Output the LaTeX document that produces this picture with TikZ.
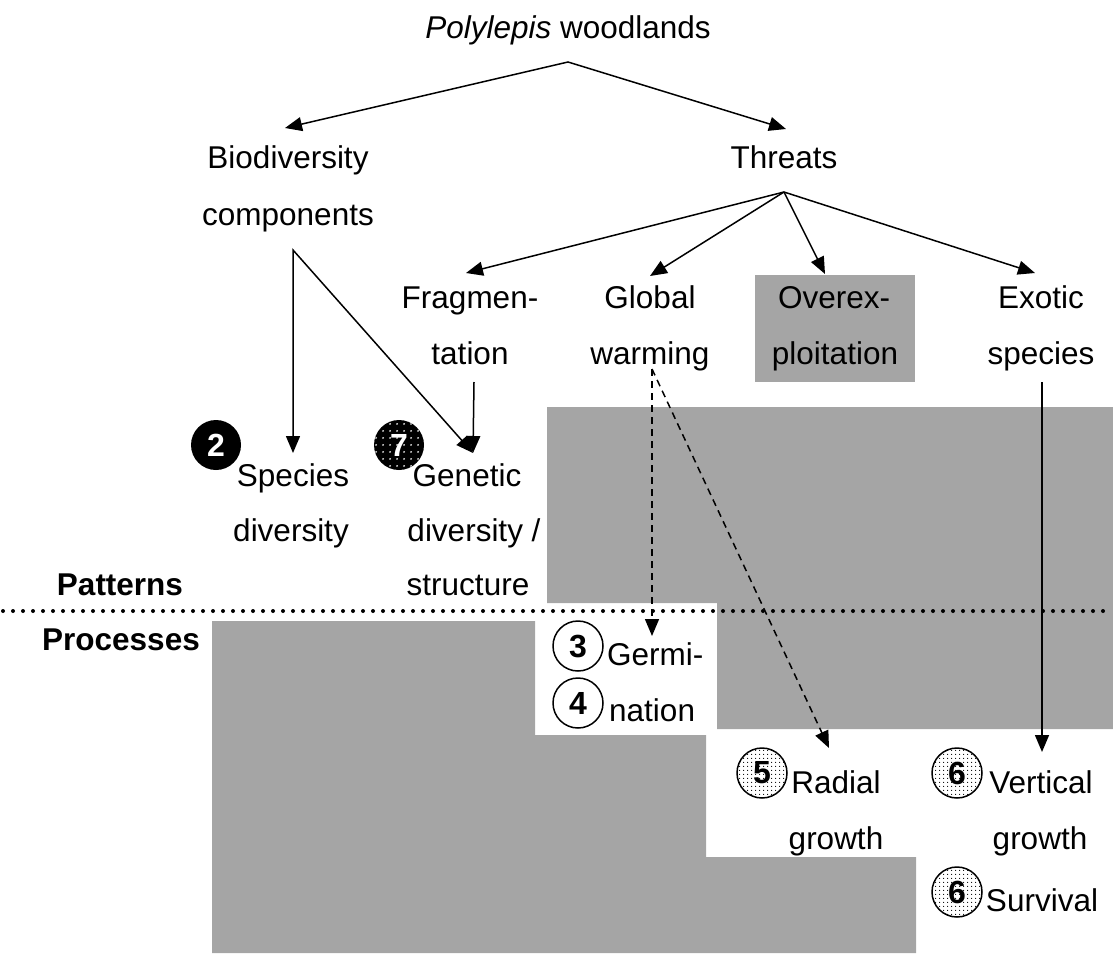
\documentclass[tikz,border=0pt]{standalone}
\usepackage{fontspec}
\setmainfont{Liberation Sans}
\usetikzlibrary{arrows.meta,patterns.meta}
\definecolor{greyfill}{RGB}{165,165,165}
\begin{document}
\begin{tikzpicture}[x=1pt,y=-1pt,
  lbl/.style={anchor=base,inner sep=0pt,font=\fontsize{31.5}{38}\selectfont},
  blbl/.style={anchor=base,inner sep=0pt,font=\fontsize{31.5}{38}\selectfont\bfseries},
  tipA/.tip={Triangle[length=17pt,width=14pt]},
  conn/.style={line width=1.5pt,-tipA},
  dconn/.style={line width=1.5pt,-tipA,dash pattern=on 7pt off 5pt},
  numc/.style={circle,minimum size=50pt,inner sep=0pt,line width=1.5pt,
    font=\fontsize{32}{34}\selectfont\bfseries},
  blacknum/.style={numc,fill=black,text=white},
  blackdots/.style={numc,text=white,preaction={fill=black},
    pattern={Dots[distance=6.5pt,radius=1pt]},pattern color=white},
  whitenum/.style={numc,draw=black,fill=white},
  greynum/.style={numc,draw=black,preaction={fill=white},
    pattern={Dots[distance=4pt,radius=0.65pt]},pattern color=black},
  dotline/.style={line width=4pt,dash pattern=on 0pt off 10pt,line cap=round}
]
\useasboundingbox (0,0) rectangle (1113,953);

% grey background regions
\fill[greyfill] (547,407) -- (1113,407) -- (1113,729) -- (717,729) -- (717,603) -- (547,603) -- cycle;
\fill[greyfill] (212,621) -- (535,621) -- (535,735) -- (706,735) -- (706,857) -- (916,857) -- (916,953) -- (212,953) -- cycle;
\fill[greyfill] (755,275) rectangle (915,382);

% dotted separator
\coordinate (dotL) at (3,611);
\coordinate (dotR) at (1113,611);
\draw[dotline] (dotL) -- (dotR);

% texts
\node[lbl] (title) at (568,38) {\textit{Polylepis} woodlands};
\node[lbl] (bio1) at (288,168) {Biodiversity};
\node[lbl] (bio2) at (288,225) {components};
\node[lbl] (thr) at (784,168) {Threats};
\node[lbl] (frag1) at (470,308) {Fragmen-};
\node[lbl] (frag2) at (470,364) {tation};
\node[lbl] (gw1) at (650,308) {Global};
\node[lbl] (gw2) at (650,364) {warming};
\node[lbl] (ov1) at (834,308) {Overex-};
\node[lbl] (ov2) at (835,364) {ploitation};
\node[lbl] (ex1) at (1041,308) {Exotic};
\node[lbl] (ex2) at (1041,364) {species};
\node[lbl] (sp1) at (293,486) {Species};
\node[lbl] (sp2) at (291,541) {diversity};
\node[lbl] (gen1) at (467,486) {Genetic};
\node[lbl] (gen2) at (474,541) {diversity /};
\node[lbl] (gen3) at (468,595) {structure};
\node[blbl] (pat) at (120,595) {Patterns};
\node[blbl] (proc) at (121,650) {Processes};
\node[lbl,anchor=base west] (germ1) at (607,665) {Germi-};
\node[lbl,anchor=base west] (germ2) at (609,721) {nation};
\node[lbl] (rad1) at (836,793) {Radial};
\node[lbl] (rad2) at (836,849) {growth};
\node[lbl] (ver1) at (1041,793) {Vertical};
\node[lbl] (ver2) at (1040,849) {growth};
\node[lbl] (surv) at (1042,911) {Survival};

% numbered circles
\node[blacknum] (c2) at (216,445) {2};
\node[blackdots] (c7) at (399,445) {7};
\node[whitenum] (c3) at (578,646) {3};
\node[whitenum] (c4) at (578,703) {4};
\node[greynum] (c5) at (762,773) {5};
\node[greynum] (c6a) at (957,773) {6};
\node[greynum] (c6b) at (957,892) {6};

% connector points
\coordinate (topApex) at (568,62);
\coordinate (bioTip) at (285,128);
\coordinate (thrTip) at (786,129);
\coordinate (thrApex) at (784,192);
\coordinate (fragTip) at (466,273);
\coordinate (gwTip) at (650,276);
\coordinate (ovTip) at (825,274);
\coordinate (exTip) at (1035,273);
\coordinate (bioApex) at (293,250);
\coordinate (spTip) at (293,453);
\coordinate (genTip) at (473,453);
\coordinate (fragStart) at (474,382);
\coordinate (gwStart) at (652,369);
\coordinate (germTip) at (652,636);
\coordinate (radTip) at (829,748);
\coordinate (exStart) at (1042,382);
\coordinate (verTip) at (1042,752);

% connectors
\draw[line width=1.5pt,tipA-tipA] (bioTip) -- (topApex) -- (thrTip);
\draw[conn] (thrApex) -- (fragTip);
\draw[conn] (thrApex) -- (gwTip);
\draw[conn] (thrApex) -- (ovTip);
\draw[conn] (thrApex) -- (exTip);
\draw[line width=1.5pt,tipA-tipA] (spTip) -- (bioApex) -- (genTip);
\draw[conn] (fragStart) -- (genTip);
\draw[dconn] (gwStart) -- (germTip);
\draw[dconn] (gwStart) -- (radTip);
\draw[conn] (exStart) -- (verTip);
\end{tikzpicture}
\end{document}
